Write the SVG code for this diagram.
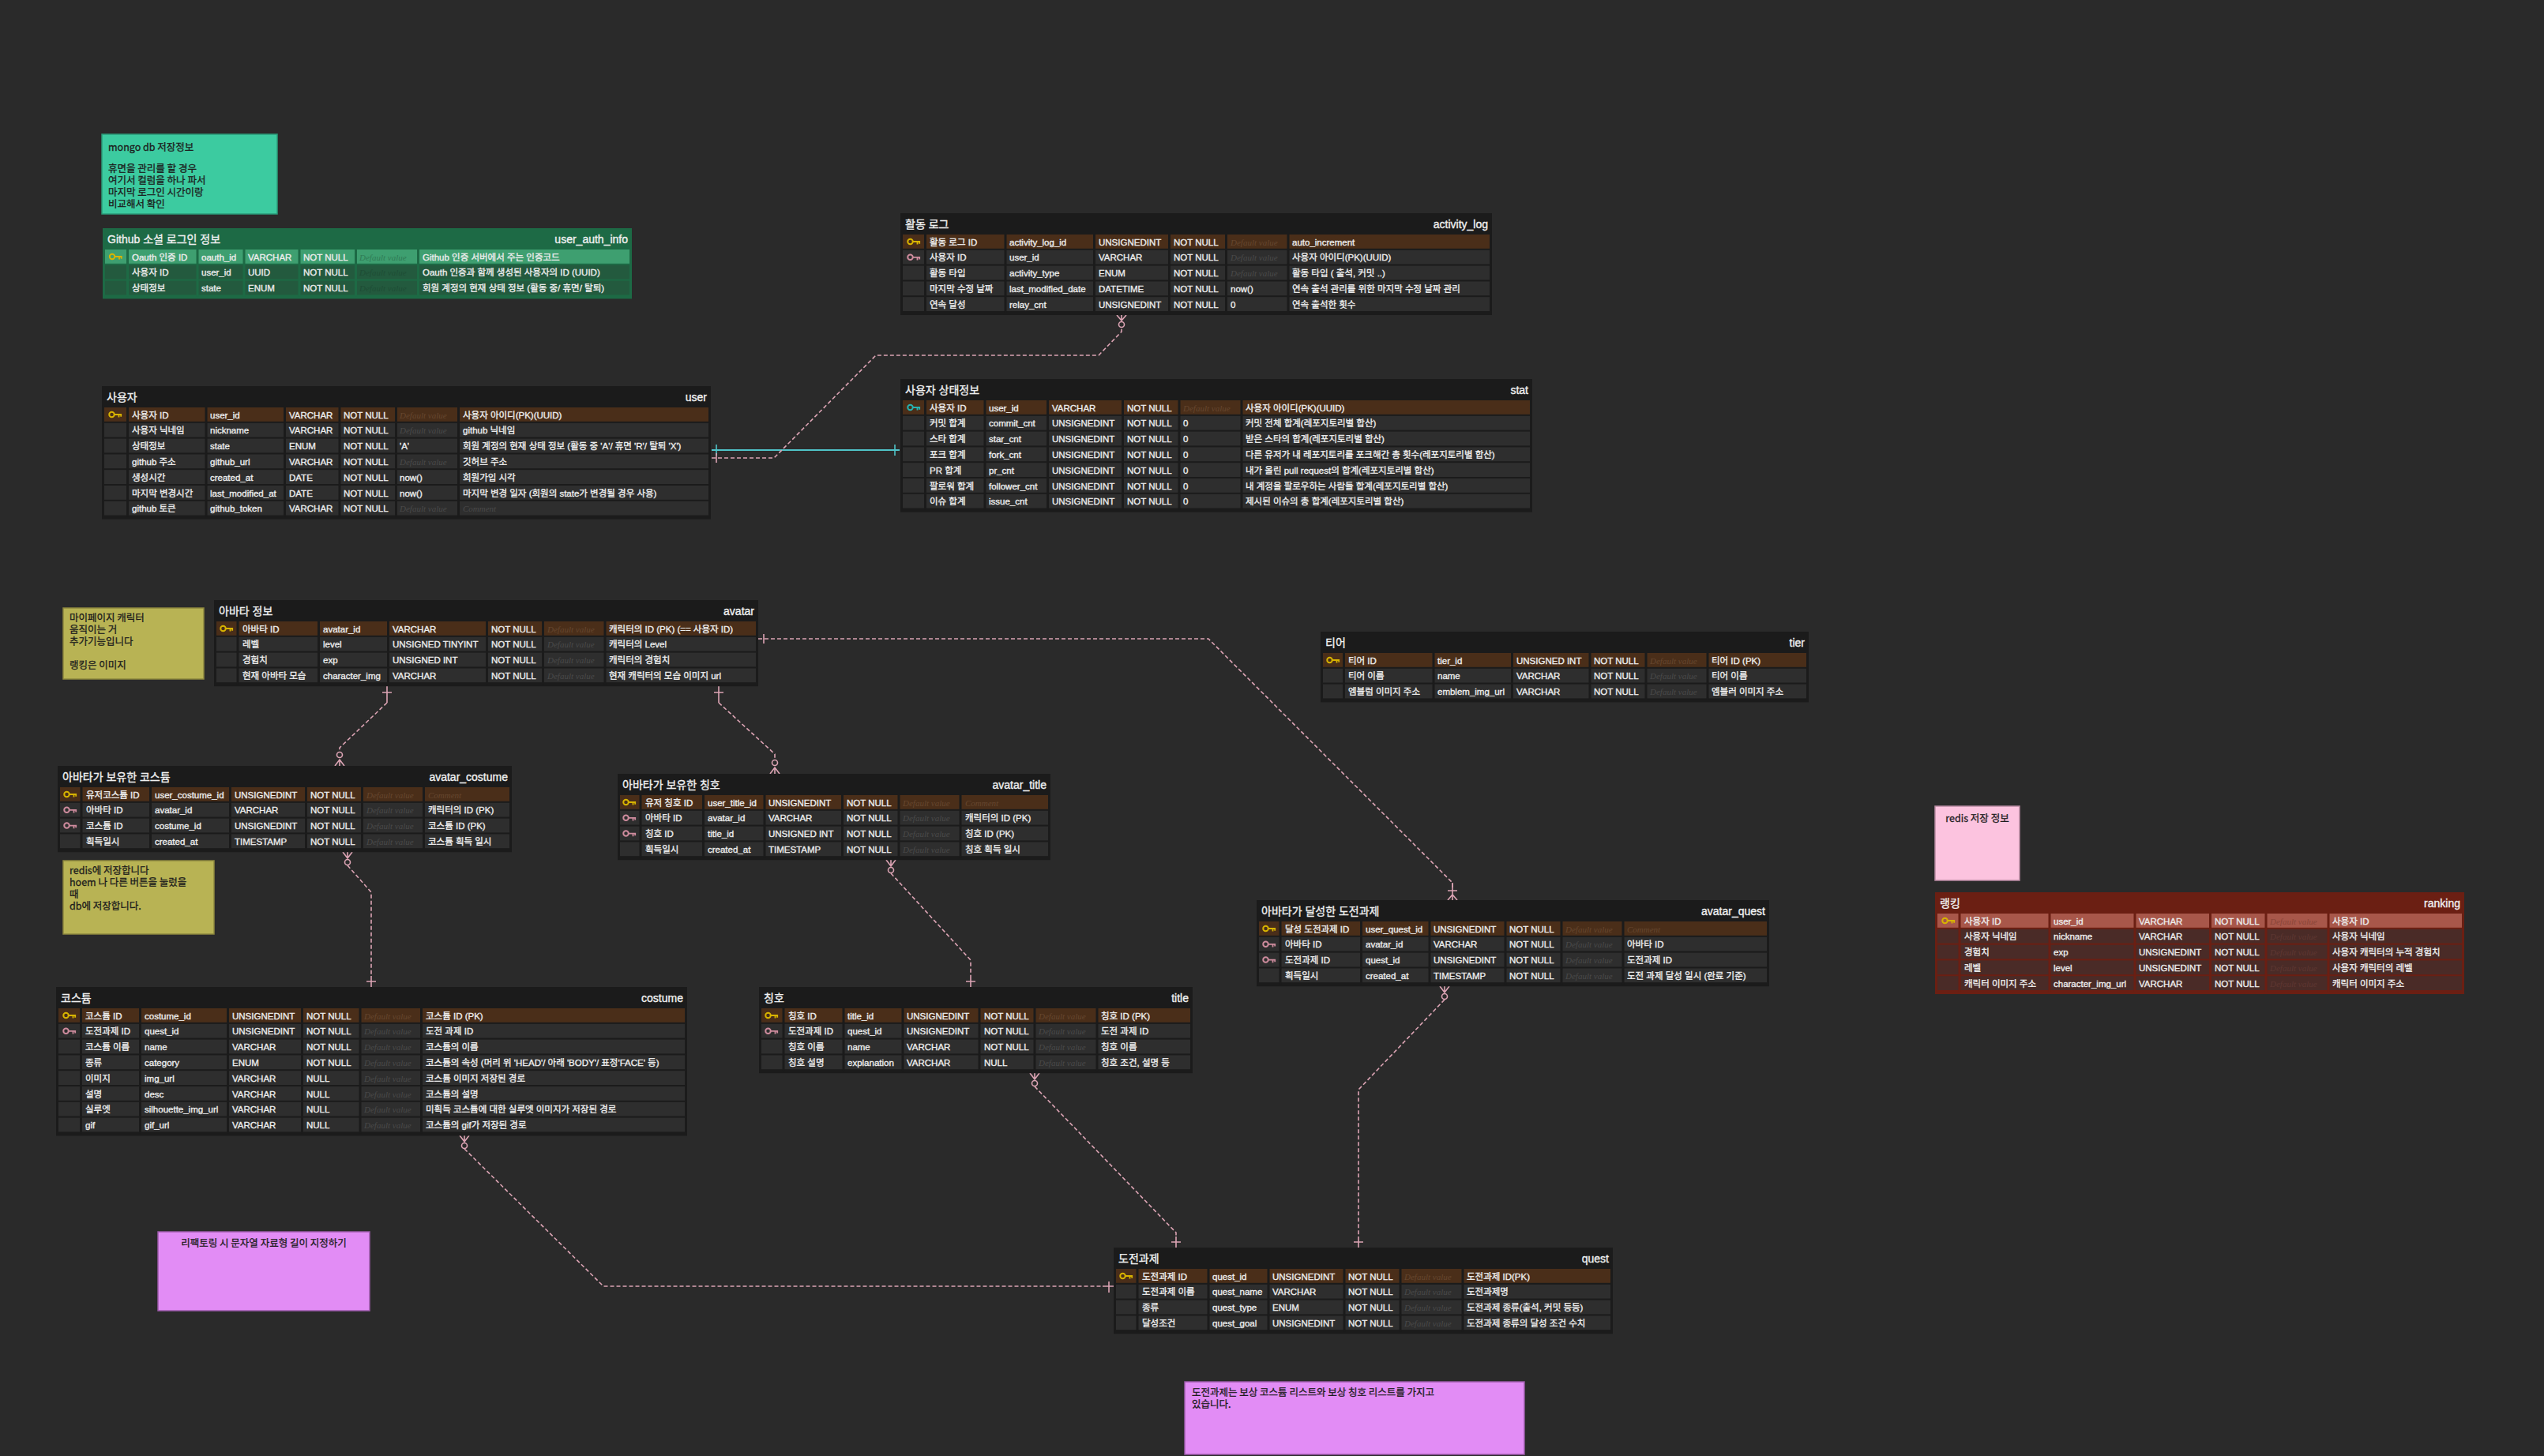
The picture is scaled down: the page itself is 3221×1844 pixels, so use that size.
<svg xmlns="http://www.w3.org/2000/svg" xmlns:xlink="http://www.w3.org/1999/xlink" width="3221" height="1844" viewBox="0 0 3221 1844">
<style>
.fr{fill:#1b1b1b}.rw{fill:#2e2e2e}.pk{fill:#4a2e19}
.dv{stroke:#1b1b1b;stroke-width:3;fill:none}
.t{font-family:"Liberation Sans","Noto Sans CJK KR",sans-serif;font-size:11.5px;fill:#ededed;stroke:#ededed;stroke-width:0.35}
.ph{font-style:italic;font-size:11px;fill:#4a4a4a;stroke:none}
.pp{font-style:italic;font-size:11px;fill:#66472f;stroke:none}
.hd{font-family:"Liberation Sans","Noto Sans CJK KR",sans-serif;font-size:14px;fill:#f0f0f0;stroke:#f0f0f0;stroke-width:0.35}
.hr{text-anchor:end}
.gfr{fill:#1d6a45}.gpk{fill:#3e9f70}.grw{fill:#235a3e}.gdv{stroke:#1d6a45;stroke-width:3;fill:none}
.gph{font-style:italic;font-size:11px;fill:#1e4d35;stroke:none}.gpp{font-style:italic;font-size:11px;fill:#2f7b55;stroke:none}
.rfr{fill:#6b1f13}.rpk{fill:#a8574a}.rrw{fill:#4a2b27}.rdv{stroke:#6b1f13;stroke-width:3;fill:none}
.rph{font-style:italic;font-size:11px;fill:#5e3732;stroke:none}.rpp{font-style:italic;font-size:11px;fill:#8a4538;stroke:none}
.note{font-family:"Noto Sans CJK KR",sans-serif;font-size:12.5px;fill:#1c1c1c;stroke:#1c1c1c;stroke-width:0.3}
.cn{fill:none;stroke:#dca4b4;stroke-width:1.6;stroke-dasharray:5 3}
.cm{fill:none;stroke:#dca4b4;stroke-width:1.6}
.cz{fill:#2a2a2a;stroke:#dca4b4;stroke-width:1.6}
.kg{color:#d8b400}.kf{color:#cf8c9e}.kt{color:#25b3b3}
</style>
<defs>
<symbol id="key" viewBox="0 0 20 12">
<circle cx="5" cy="6" r="3.6" fill="none" stroke="currentColor" stroke-width="2.2"/>
<path d="M8.6 6H19M15 6v4M18 6v3" fill="none" stroke="currentColor" stroke-width="2"/>
</symbol>
</defs>
<rect x="0" y="0" width="3221" height="1844" fill="#2a2a2a"/>

<g id="connectors">
<path d="M901,570 H1139" fill="none" stroke="#4fc3c8" stroke-width="2"/>
<path d="M907,563 V577 M1133,563 V577" fill="none" stroke="#4fc3c8" stroke-width="1.6"/>
<path class="cn" d="M901,580 H980 L1109,450 H1391 L1420,420 V415"/>
<path class="cm" d="M907,574 V586 M1414,399 L1420,406 L1426,399 M1420,399 V406"/>
<circle class="cz" cx="1420" cy="411" r="3.5"/>
<path class="cn" d="M490,890 L430,947 V952"/>
<path class="cm" d="M490,869 V890 M484,877 H496 M424,970 L430,962 L436,970 M430,962 V970"/>
<circle class="cz" cx="430" cy="956" r="3.5"/>
<path class="cn" d="M910,890 L981,955 V962"/>
<path class="cm" d="M910,869 V890 M904,877 H916 M975,980 L981,972 L987,980 M981,972 V980"/>
<circle class="cz" cx="981" cy="966" r="3.5"/>
<path class="cn" d="M960,809 H1530 L1839,1118 V1128"/>
<path class="cm" d="M967,803 V815 M1839,1118 V1140 M1833,1128 H1845 M1833,1140 L1839,1133 L1845,1140"/>
<path class="cm" d="M434,1079 L440,1087 L446,1079 M440,1079 V1087"/>
<circle class="cz" cx="440" cy="1092" r="3.5"/>
<path class="cn" d="M440,1096 L470,1130 V1236"/>
<path class="cm" d="M470,1236 V1250 M464,1243 H476"/>
<path class="cm" d="M1122,1089 L1128,1097 L1134,1089 M1128,1089 V1097"/>
<circle class="cz" cx="1128" cy="1102" r="3.5"/>
<path class="cn" d="M1128,1106 L1229,1216 V1236"/>
<path class="cm" d="M1229,1236 V1250 M1223,1243 H1235"/>
<path class="cm" d="M582,1438 L588,1446 L594,1438 M588,1438 V1446"/>
<circle class="cz" cx="588" cy="1451" r="3.5"/>
<path class="cn" d="M588,1455 L764,1629 H1396"/>
<path class="cm" d="M1396,1629 H1410 M1404,1623 V1637"/>
<path class="cm" d="M1304,1359 L1310,1367 L1316,1359 M1310,1359 V1367"/>
<circle class="cz" cx="1310" cy="1372" r="3.5"/>
<path class="cn" d="M1310,1376 L1489,1561 V1566"/>
<path class="cm" d="M1489,1566 V1580 M1483,1573 H1495"/>
<path class="cm" d="M1823,1249 L1829,1257 L1835,1249 M1829,1249 V1257"/>
<circle class="cz" cx="1829" cy="1262" r="3.5"/>
<path class="cn" d="M1829,1266 L1720,1380 V1566"/>
<path class="cm" d="M1720,1566 V1580 M1714,1573 H1726"/>
</g>

<g id="note-mongo">
<rect x="129" y="170" width="222" height="101" fill="#3ccba0" stroke="#2a9a78" stroke-width="1.5"/>
<text class="note" x="137" y="191">mongo db 저장정보</text>
<text class="note" x="137" y="218">휴면을 관리를 할 경우</text>
<text class="note" x="137" y="233">여기서 컬럼을 하나 파서</text>
<text class="note" x="137" y="248">마지막 로그인 시간이랑</text>
<text class="note" x="137" y="263">비교해서 확인</text>
</g>

<g id="user_auth_info">
<rect class="gfr" x="130" y="289" width="670" height="89.4"/>
<text class="hd" x="136" y="307.5">Github 소셜 로그인 정보</text>
<text class="hd hr" x="795" y="307.5">user_auth_info</text>
<rect class="gpk" x="133" y="316" width="664" height="17.8"/>
<rect class="grw" x="133" y="335.8" width="664" height="17.8"/>
<rect class="grw" x="133" y="355.6" width="664" height="17.8"/>
<path class="gdv" d="M161.5,316V375.4M250,316V375.4M309,316V375.4M379,316V375.4M450.5,316V375.4M529.5,316V375.4"/>
<use href="#key" class="kg" x="137.5" y="319.5" width="18" height="11"/>
<text class="t" x="167" y="329.5">Oauth 인증 ID</text><text class="t" x="255" y="329.5">oauth_id</text><text class="t" x="314" y="329.5">VARCHAR</text><text class="t" x="384" y="329.5">NOT NULL</text><text class="gpp" x="455" y="329.5">Default value</text><text class="t" x="535" y="329.5">Github 인증 서버에서 주는 인증코드</text>
<text class="t" x="167" y="349.3">사용자 ID</text><text class="t" x="255" y="349.3">user_id</text><text class="t" x="314" y="349.3">UUID</text><text class="t" x="384" y="349.3">NOT NULL</text><text class="gph" x="455" y="349.3">Default value</text><text class="t" x="535" y="349.3">Oauth 인증과 함께 생성된 사용자의 ID (UUID)</text>
<text class="t" x="167" y="369.1">상태정보</text><text class="t" x="255" y="369.1">state</text><text class="t" x="314" y="369.1">ENUM</text><text class="t" x="384" y="369.1">NOT NULL</text><text class="gph" x="455" y="369.1">Default value</text><text class="t" x="535" y="369.1">회원 계정의 현재 상태 정보 (활동 중/ 휴면/ 탈퇴)</text>
</g>

<g id="user">
<rect class="fr" x="129" y="489" width="771" height="168.6"/>
<text class="hd" x="135" y="507.5">사용자</text>
<text class="hd hr" x="895" y="507.5">user</text>
<rect class="pk" x="132" y="516" width="765" height="17.8"/>
<rect class="rw" x="132" y="535.8" width="765" height="17.8"/>
<rect class="rw" x="132" y="555.6" width="765" height="17.8"/>
<rect class="rw" x="132" y="575.4" width="765" height="17.8"/>
<rect class="rw" x="132" y="595.2" width="765" height="17.8"/>
<rect class="rw" x="132" y="615" width="765" height="17.8"/>
<rect class="rw" x="132" y="634.8" width="765" height="17.8"/>
<path class="dv" d="M161.5,516V654.6M261,516V654.6M360.5,516V654.6M430,516V654.6M501.5,516V654.6M580.5,516V654.6"/>
<use href="#key" class="kg" x="137" y="519.5" width="18" height="11"/>
<text class="t" x="167" y="529.5">사용자 ID</text><text class="t" x="266" y="529.5">user_id</text><text class="t" x="366" y="529.5">VARCHAR</text><text class="t" x="435" y="529.5">NOT NULL</text><text class="pp" x="506" y="529.5">Default value</text><text class="t" x="586" y="529.5">사용자 아이디(PK)(UUID)</text>
<text class="t" x="167" y="549.3">사용자 닉네임</text><text class="t" x="266" y="549.3">nickname</text><text class="t" x="366" y="549.3">VARCHAR</text><text class="t" x="435" y="549.3">NOT NULL</text><text class="ph" x="506" y="549.3">Default value</text><text class="t" x="586" y="549.3">github 닉네임</text>
<text class="t" x="167" y="569.1">상태정보</text><text class="t" x="266" y="569.1">state</text><text class="t" x="366" y="569.1">ENUM</text><text class="t" x="435" y="569.1">NOT NULL</text><text class="t" x="506" y="569.1">'A'</text><text class="t" x="586" y="569.1">회원 계정의 현재 상태 정보 (활동 중 'A'/ 휴면 'R'/ 탈퇴 'X')</text>
<text class="t" x="167" y="588.9">github 주소</text><text class="t" x="266" y="588.9">github_url</text><text class="t" x="366" y="588.9">VARCHAR</text><text class="t" x="435" y="588.9">NOT NULL</text><text class="ph" x="506" y="588.9">Default value</text><text class="t" x="586" y="588.9">깃허브 주소</text>
<text class="t" x="167" y="608.7">생성시간</text><text class="t" x="266" y="608.7">created_at</text><text class="t" x="366" y="608.7">DATE</text><text class="t" x="435" y="608.7">NOT NULL</text><text class="t" x="506" y="608.7">now()</text><text class="t" x="586" y="608.7">회원가입 시각</text>
<text class="t" x="167" y="628.5">마지막 변경시간</text><text class="t" x="266" y="628.5">last_modified_at</text><text class="t" x="366" y="628.5">DATE</text><text class="t" x="435" y="628.5">NOT NULL</text><text class="t" x="506" y="628.5">now()</text><text class="t" x="586" y="628.5">마지막 변경 일자 (회원의 state가 변경될 경우 사용)</text>
<text class="t" x="167" y="648.3">github 토큰</text><text class="t" x="266" y="648.3">github_token</text><text class="t" x="366" y="648.3">VARCHAR</text><text class="t" x="435" y="648.3">NOT NULL</text><text class="ph" x="506" y="648.3">Default value</text><text class="ph" x="586" y="648.3">Comment</text>
</g>

<g id="activity_log">
<rect class="fr" x="1140" y="270" width="749" height="129"/>
<text class="hd" x="1146" y="288.5">활동 로그</text>
<text class="hd hr" x="1884" y="288.5">activity_log</text>
<rect class="pk" x="1143" y="297" width="743" height="17.8"/>
<rect class="rw" x="1143" y="316.8" width="743" height="17.8"/>
<rect class="rw" x="1143" y="336.6" width="743" height="17.8"/>
<rect class="rw" x="1143" y="356.4" width="743" height="17.8"/>
<rect class="rw" x="1143" y="376.2" width="743" height="17.8"/>
<path class="dv" d="M1171.5,297V396M1273,297V396M1385.5,297V396M1480.5,297V396M1552.5,297V396M1631,297V396"/>
<use href="#key" class="kg" x="1148" y="300.5" width="18" height="11"/>
<use href="#key" class="kf" x="1148" y="320.3" width="18" height="11"/>
<text class="t" x="1177" y="310.5">활동 로그 ID</text><text class="t" x="1278" y="310.5">activity_log_id</text><text class="t" x="1391" y="310.5">UNSIGNEDINT</text><text class="t" x="1486" y="310.5">NOT NULL</text><text class="pp" x="1558" y="310.5">Default value</text><text class="t" x="1636" y="310.5">auto_increment</text>
<text class="t" x="1177" y="330.3">사용자 ID</text><text class="t" x="1278" y="330.3">user_id</text><text class="t" x="1391" y="330.3">VARCHAR</text><text class="t" x="1486" y="330.3">NOT NULL</text><text class="ph" x="1558" y="330.3">Default value</text><text class="t" x="1636" y="330.3">사용자 아이디(PK)(UUID)</text>
<text class="t" x="1177" y="350.1">활동 타입</text><text class="t" x="1278" y="350.1">activity_type</text><text class="t" x="1391" y="350.1">ENUM</text><text class="t" x="1486" y="350.1">NOT NULL</text><text class="ph" x="1558" y="350.1">Default value</text><text class="t" x="1636" y="350.1">활동 타입 ( 출석, 커밋 ..)</text>
<text class="t" x="1177" y="369.9">마지막 수정 날짜</text><text class="t" x="1278" y="369.9">last_modified_date</text><text class="t" x="1391" y="369.9">DATETIME</text><text class="t" x="1486" y="369.9">NOT NULL</text><text class="t" x="1558" y="369.9">now()</text><text class="t" x="1636" y="369.9">연속 출석 관리를 위한 마지막 수정 날짜 관리</text>
<text class="t" x="1177" y="389.7">연속 달성</text><text class="t" x="1278" y="389.7">relay_cnt</text><text class="t" x="1391" y="389.7">UNSIGNEDINT</text><text class="t" x="1486" y="389.7">NOT NULL</text><text class="t" x="1558" y="389.7">0</text><text class="t" x="1636" y="389.7">연속 출석한 횟수</text>
</g>

<g id="stat">
<rect class="fr" x="1140" y="480" width="800" height="168.6"/>
<text class="hd" x="1146" y="498.5">사용자 상태정보</text>
<text class="hd hr" x="1935" y="498.5">stat</text>
<rect class="pk" x="1143" y="507" width="794" height="17.8"/>
<rect class="rw" x="1143" y="526.8" width="794" height="17.8"/>
<rect class="rw" x="1143" y="546.6" width="794" height="17.8"/>
<rect class="rw" x="1143" y="566.4" width="794" height="17.8"/>
<rect class="rw" x="1143" y="586.2" width="794" height="17.8"/>
<rect class="rw" x="1143" y="606" width="794" height="17.8"/>
<rect class="rw" x="1143" y="625.8" width="794" height="17.8"/>
<path class="dv" d="M1171.5,507V645.6M1247,507V645.6M1326.5,507V645.6M1421.5,507V645.6M1493,507V645.6M1572,507V645.6"/>
<use href="#key" class="kt" x="1148" y="510.5" width="18" height="11"/>
<text class="t" x="1177" y="520.5">사용자 ID</text><text class="t" x="1252" y="520.5">user_id</text><text class="t" x="1332" y="520.5">VARCHAR</text><text class="t" x="1427" y="520.5">NOT NULL</text><text class="pp" x="1498" y="520.5">Default value</text><text class="t" x="1577" y="520.5">사용자 아이디(PK)(UUID)</text>
<text class="t" x="1177" y="540.3">커밋 합계</text><text class="t" x="1252" y="540.3">commit_cnt</text><text class="t" x="1332" y="540.3">UNSIGNEDINT</text><text class="t" x="1427" y="540.3">NOT NULL</text><text class="t" x="1498" y="540.3">0</text><text class="t" x="1577" y="540.3">커밋 전체 합계(레포지토리별 합산)</text>
<text class="t" x="1177" y="560.1">스타 합계</text><text class="t" x="1252" y="560.1">star_cnt</text><text class="t" x="1332" y="560.1">UNSIGNEDINT</text><text class="t" x="1427" y="560.1">NOT NULL</text><text class="t" x="1498" y="560.1">0</text><text class="t" x="1577" y="560.1">받은 스타의 합계(레포지토리별 합산)</text>
<text class="t" x="1177" y="579.9">포크 합계</text><text class="t" x="1252" y="579.9">fork_cnt</text><text class="t" x="1332" y="579.9">UNSIGNEDINT</text><text class="t" x="1427" y="579.9">NOT NULL</text><text class="t" x="1498" y="579.9">0</text><text class="t" x="1577" y="579.9">다른 유저가 내 레포지토리를 포크해간 총 횟수(레포지토리별 합산)</text>
<text class="t" x="1177" y="599.7">PR 합계</text><text class="t" x="1252" y="599.7">pr_cnt</text><text class="t" x="1332" y="599.7">UNSIGNEDINT</text><text class="t" x="1427" y="599.7">NOT NULL</text><text class="t" x="1498" y="599.7">0</text><text class="t" x="1577" y="599.7">내가 올린 pull request의 합계(레포지토리별 합산)</text>
<text class="t" x="1177" y="619.5">팔로워 합계</text><text class="t" x="1252" y="619.5">follower_cnt</text><text class="t" x="1332" y="619.5">UNSIGNEDINT</text><text class="t" x="1427" y="619.5">NOT NULL</text><text class="t" x="1498" y="619.5">0</text><text class="t" x="1577" y="619.5">내 계정을 팔로우하는 사람들 합계(레포지토리별 합산)</text>
<text class="t" x="1177" y="639.3">이슈 합계</text><text class="t" x="1252" y="639.3">issue_cnt</text><text class="t" x="1332" y="639.3">UNSIGNEDINT</text><text class="t" x="1427" y="639.3">NOT NULL</text><text class="t" x="1498" y="639.3">0</text><text class="t" x="1577" y="639.3">제시된 이슈의 총 합계(레포지토리별 합산)</text>
</g>

<g id="note-avatar">
<rect x="80" y="770" width="178" height="90" fill="#b8b354" stroke="#8c873e" stroke-width="1.5"/>
<text class="note" x="88" y="787">마이페이지 캐릭터</text>
<text class="note" x="88" y="802">움직이는 거</text>
<text class="note" x="88" y="817">추가기능입니다</text>
<text class="note" x="88" y="847">랭킹은 이미지</text>
</g>

<g id="avatar">
<rect class="fr" x="271" y="760" width="689" height="109.2"/>
<text class="hd" x="277" y="778.5">아바타 정보</text>
<text class="hd hr" x="955" y="778.5">avatar</text>
<rect class="pk" x="274" y="787" width="683" height="17.8"/>
<rect class="rw" x="274" y="806.8" width="683" height="17.8"/>
<rect class="rw" x="274" y="826.6" width="683" height="17.8"/>
<rect class="rw" x="274" y="846.4" width="683" height="17.8"/>
<path class="dv" d="M301,787V866.2M403.5,787V866.2M491.5,787V866.2M616.5,787V866.2M687.5,787V866.2M766,787V866.2"/>
<use href="#key" class="kg" x="278" y="790.5" width="18" height="11"/>
<text class="t" x="307" y="800.5">아바타 ID</text><text class="t" x="409" y="800.5">avatar_id</text><text class="t" x="497" y="800.5">VARCHAR</text><text class="t" x="622" y="800.5">NOT NULL</text><text class="pp" x="693" y="800.5">Default value</text><text class="t" x="771" y="800.5">캐릭터의 ID (PK) (== 사용자 ID)</text>
<text class="t" x="307" y="820.3">레벨</text><text class="t" x="409" y="820.3">level</text><text class="t" x="497" y="820.3">UNSIGNED TINYINT</text><text class="t" x="622" y="820.3">NOT NULL</text><text class="ph" x="693" y="820.3">Default value</text><text class="t" x="771" y="820.3">캐릭터의 Level</text>
<text class="t" x="307" y="840.1">경험치</text><text class="t" x="409" y="840.1">exp</text><text class="t" x="497" y="840.1">UNSIGNED INT</text><text class="t" x="622" y="840.1">NOT NULL</text><text class="ph" x="693" y="840.1">Default value</text><text class="t" x="771" y="840.1">캐릭터의 경험치</text>
<text class="t" x="307" y="859.9">현재 아바타 모습</text><text class="t" x="409" y="859.9">character_img</text><text class="t" x="497" y="859.9">VARCHAR</text><text class="t" x="622" y="859.9">NOT NULL</text><text class="ph" x="693" y="859.9">Default value</text><text class="t" x="771" y="859.9">현재 캐릭터의 모습 이미지 url</text>
</g>

<g id="avatar_costume">
<rect class="fr" x="73" y="970" width="575" height="109.2"/>
<text class="hd" x="79" y="988.5">아바타가 보유한 코스튬</text>
<text class="hd hr" x="643" y="988.5">avatar_costume</text>
<rect class="pk" x="76" y="997" width="569" height="17.8"/>
<rect class="rw" x="76" y="1016.8" width="569" height="17.8"/>
<rect class="rw" x="76" y="1036.6" width="569" height="17.8"/>
<rect class="rw" x="76" y="1056.4" width="569" height="17.8"/>
<path class="dv" d="M103,997V1076.2M190.5,997V1076.2M291.5,997V1076.2M387.5,997V1076.2M458.5,997V1076.2M536.5,997V1076.2"/>
<use href="#key" class="kg" x="80" y="1000.5" width="18" height="11"/>
<use href="#key" class="kf" x="80" y="1020.3" width="18" height="11"/>
<use href="#key" class="kf" x="80" y="1040.1" width="18" height="11"/>
<text class="t" x="109" y="1010.5">유저코스튬 ID</text><text class="t" x="196" y="1010.5">user_costume_id</text><text class="t" x="297" y="1010.5">UNSIGNEDINT</text><text class="t" x="393" y="1010.5">NOT NULL</text><text class="pp" x="464" y="1010.5">Default value</text><text class="pp" x="542" y="1010.5">Comment</text>
<text class="t" x="109" y="1030.3">아바타 ID</text><text class="t" x="196" y="1030.3">avatar_id</text><text class="t" x="297" y="1030.3">VARCHAR</text><text class="t" x="393" y="1030.3">NOT NULL</text><text class="ph" x="464" y="1030.3">Default value</text><text class="t" x="542" y="1030.3">캐릭터의 ID (PK)</text>
<text class="t" x="109" y="1050.1">코스튬 ID</text><text class="t" x="196" y="1050.1">costume_id</text><text class="t" x="297" y="1050.1">UNSIGNEDINT</text><text class="t" x="393" y="1050.1">NOT NULL</text><text class="ph" x="464" y="1050.1">Default value</text><text class="t" x="542" y="1050.1">코스튬 ID (PK)</text>
<text class="t" x="109" y="1069.9">획득일시</text><text class="t" x="196" y="1069.9">created_at</text><text class="t" x="297" y="1069.9">TIMESTAMP</text><text class="t" x="393" y="1069.9">NOT NULL</text><text class="ph" x="464" y="1069.9">Default value</text><text class="t" x="542" y="1069.9">코스튬 획득 일시</text>
</g>

<g id="note-redis-save">
<rect x="80" y="1090" width="191" height="93" fill="#b8b354" stroke="#8c873e" stroke-width="1.5"/>
<text class="note" x="88" y="1107">redis에 저장합니다</text>
<text class="note" x="88" y="1122">hoem 나 다른 버튼을 눌렀을</text>
<text class="note" x="88" y="1137">때</text>
<text class="note" x="88" y="1152">db에 저장합니다.</text>
</g>

<g id="avatar_title">
<rect class="fr" x="782" y="980" width="548" height="109.2"/>
<text class="hd" x="788" y="998.5">아바타가 보유한 칭호</text>
<text class="hd hr" x="1325" y="998.5">avatar_title</text>
<rect class="pk" x="785" y="1007" width="542" height="17.8"/>
<rect class="rw" x="785" y="1026.8" width="542" height="17.8"/>
<rect class="rw" x="785" y="1046.6" width="542" height="17.8"/>
<rect class="rw" x="785" y="1066.4" width="542" height="17.8"/>
<path class="dv" d="M811,1007V1086.2M890.5,1007V1086.2M968,1007V1086.2M1066.5,1007V1086.2M1138,1007V1086.2M1216,1007V1086.2"/>
<use href="#key" class="kg" x="788" y="1010.5" width="18" height="11"/>
<use href="#key" class="kf" x="788" y="1030.3" width="18" height="11"/>
<use href="#key" class="kf" x="788" y="1050.1" width="18" height="11"/>
<text class="t" x="817" y="1020.5">유저 칭호 ID</text><text class="t" x="896" y="1020.5">user_title_id</text><text class="t" x="973" y="1020.5">UNSIGNEDINT</text><text class="t" x="1072" y="1020.5">NOT NULL</text><text class="pp" x="1143" y="1020.5">Default value</text><text class="pp" x="1222" y="1020.5">Comment</text>
<text class="t" x="817" y="1040.3">아바타 ID</text><text class="t" x="896" y="1040.3">avatar_id</text><text class="t" x="973" y="1040.3">VARCHAR</text><text class="t" x="1072" y="1040.3">NOT NULL</text><text class="ph" x="1143" y="1040.3">Default value</text><text class="t" x="1222" y="1040.3">캐릭터의 ID (PK)</text>
<text class="t" x="817" y="1060.1">칭호 ID</text><text class="t" x="896" y="1060.1">title_id</text><text class="t" x="973" y="1060.1">UNSIGNED INT</text><text class="t" x="1072" y="1060.1">NOT NULL</text><text class="ph" x="1143" y="1060.1">Default value</text><text class="t" x="1222" y="1060.1">칭호 ID (PK)</text>
<text class="t" x="817" y="1079.9">획득일시</text><text class="t" x="896" y="1079.9">created_at</text><text class="t" x="973" y="1079.9">TIMESTAMP</text><text class="t" x="1072" y="1079.9">NOT NULL</text><text class="ph" x="1143" y="1079.9">Default value</text><text class="t" x="1222" y="1079.9">칭호 획득 일시</text>
</g>

<g id="tier">
<rect class="fr" x="1672" y="800" width="618" height="89.4"/>
<text class="hd" x="1678" y="818.5">티어</text>
<text class="hd hr" x="2285" y="818.5">tier</text>
<rect class="pk" x="1675" y="827" width="612" height="17.8"/>
<rect class="rw" x="1675" y="846.8" width="612" height="17.8"/>
<rect class="rw" x="1675" y="866.6" width="612" height="17.8"/>
<path class="dv" d="M1701.5,827V886.4M1815,827V886.4M1914.5,827V886.4M2013,827V886.4M2084,827V886.4M2162,827V886.4"/>
<use href="#key" class="kg" x="1679" y="830.5" width="18" height="11"/>
<text class="t" x="1707" y="840.5">티어 ID</text><text class="t" x="1820" y="840.5">tier_id</text><text class="t" x="1920" y="840.5">UNSIGNED INT</text><text class="t" x="2018" y="840.5">NOT NULL</text><text class="pp" x="2089" y="840.5">Default value</text><text class="t" x="2167" y="840.5">티어 ID (PK)</text>
<text class="t" x="1707" y="860.3">티어 이름</text><text class="t" x="1820" y="860.3">name</text><text class="t" x="1920" y="860.3">VARCHAR</text><text class="t" x="2018" y="860.3">NOT NULL</text><text class="ph" x="2089" y="860.3">Default value</text><text class="t" x="2167" y="860.3">티어 이름</text>
<text class="t" x="1707" y="880.1">엠블럼 이미지 주소</text><text class="t" x="1820" y="880.1">emblem_img_url</text><text class="t" x="1920" y="880.1">VARCHAR</text><text class="t" x="2018" y="880.1">NOT NULL</text><text class="ph" x="2089" y="880.1">Default value</text><text class="t" x="2167" y="880.1">엠블러 이미지 주소</text>
</g>

<g id="avatar_quest">
<rect class="fr" x="1591" y="1140" width="649" height="109.2"/>
<text class="hd" x="1597" y="1158.5">아바타가 달성한 도전과제</text>
<text class="hd hr" x="2235" y="1158.5">avatar_quest</text>
<rect class="pk" x="1594" y="1167" width="643" height="17.8"/>
<rect class="rw" x="1594" y="1186.8" width="643" height="17.8"/>
<rect class="rw" x="1594" y="1206.6" width="643" height="17.8"/>
<rect class="rw" x="1594" y="1226.4" width="643" height="17.8"/>
<path class="dv" d="M1621,1167V1246.2M1723.5,1167V1246.2M1810,1167V1246.2M1906,1167V1246.2M1977,1167V1246.2M2055,1167V1246.2"/>
<use href="#key" class="kg" x="1598" y="1170.5" width="18" height="11"/>
<use href="#key" class="kf" x="1598" y="1190.3" width="18" height="11"/>
<use href="#key" class="kf" x="1598" y="1210.1" width="18" height="11"/>
<text class="t" x="1627" y="1180.5">달성 도전과제 ID</text><text class="t" x="1729" y="1180.5">user_quest_id</text><text class="t" x="1815" y="1180.5">UNSIGNEDINT</text><text class="t" x="1911" y="1180.5">NOT NULL</text><text class="pp" x="1982" y="1180.5">Default value</text><text class="pp" x="2060" y="1180.5">Comment</text>
<text class="t" x="1627" y="1200.3">아바타 ID</text><text class="t" x="1729" y="1200.3">avatar_id</text><text class="t" x="1815" y="1200.3">VARCHAR</text><text class="t" x="1911" y="1200.3">NOT NULL</text><text class="ph" x="1982" y="1200.3">Default value</text><text class="t" x="2060" y="1200.3">아바타 ID</text>
<text class="t" x="1627" y="1220.1">도전과제 ID</text><text class="t" x="1729" y="1220.1">quest_id</text><text class="t" x="1815" y="1220.1">UNSIGNEDINT</text><text class="t" x="1911" y="1220.1">NOT NULL</text><text class="ph" x="1982" y="1220.1">Default value</text><text class="t" x="2060" y="1220.1">도전과제 ID</text>
<text class="t" x="1627" y="1239.9">획득일시</text><text class="t" x="1729" y="1239.9">created_at</text><text class="t" x="1815" y="1239.9">TIMESTAMP</text><text class="t" x="1911" y="1239.9">NOT NULL</text><text class="ph" x="1982" y="1239.9">Default value</text><text class="t" x="2060" y="1239.9">도전 과제 달성 일시 (완료 기준)</text>
</g>

<g id="note-redis">
<rect x="2450" y="1021" width="107" height="94" fill="#fcc3df" stroke="#b88aa2" stroke-width="1.5"/>
<text class="note" x="2503.5" y="1041" text-anchor="middle">redis 저장 정보</text>
</g>

<g id="ranking">
<rect class="rfr" x="2450" y="1130" width="670" height="129"/>
<text class="hd" x="2456" y="1148.5">랭킹</text>
<text class="hd hr" x="3115" y="1148.5">ranking</text>
<rect class="rpk" x="2453" y="1157" width="664" height="17.8"/>
<rect class="rrw" x="2453" y="1176.8" width="664" height="17.8"/>
<rect class="rrw" x="2453" y="1196.6" width="664" height="17.8"/>
<rect class="rrw" x="2453" y="1216.4" width="664" height="17.8"/>
<rect class="rrw" x="2453" y="1236.2" width="664" height="17.8"/>
<path class="rdv" d="M2481,1157V1256M2595,1157V1256M2703,1157V1256M2798.5,1157V1256M2869,1157V1256M2948,1157V1256"/>
<use href="#key" class="kg" x="2458" y="1160.5" width="18" height="11"/>
<text class="t" x="2487" y="1170.5">사용자 ID</text><text class="t" x="2600" y="1170.5">user_id</text><text class="t" x="2708" y="1170.5">VARCHAR</text><text class="t" x="2804" y="1170.5">NOT NULL</text><text class="rpp" x="2874" y="1170.5">Default value</text><text class="t" x="2953" y="1170.5">사용자 ID</text>
<text class="t" x="2487" y="1190.3">사용자 닉네임</text><text class="t" x="2600" y="1190.3">nickname</text><text class="t" x="2708" y="1190.3">VARCHAR</text><text class="t" x="2804" y="1190.3">NOT NULL</text><text class="rph" x="2874" y="1190.3">Default value</text><text class="t" x="2953" y="1190.3">사용자 닉네임</text>
<text class="t" x="2487" y="1210.1">경험치</text><text class="t" x="2600" y="1210.1">exp</text><text class="t" x="2708" y="1210.1">UNSIGNEDINT</text><text class="t" x="2804" y="1210.1">NOT NULL</text><text class="rph" x="2874" y="1210.1">Default value</text><text class="t" x="2953" y="1210.1">사용자 캐릭터의 누적 경험치</text>
<text class="t" x="2487" y="1229.9">레벨</text><text class="t" x="2600" y="1229.9">level</text><text class="t" x="2708" y="1229.9">UNSIGNEDINT</text><text class="t" x="2804" y="1229.9">NOT NULL</text><text class="rph" x="2874" y="1229.9">Default value</text><text class="t" x="2953" y="1229.9">사용자 캐릭터의 레벨</text>
<text class="t" x="2487" y="1249.7">캐릭터 이미지 주소</text><text class="t" x="2600" y="1249.7">character_img_url</text><text class="t" x="2708" y="1249.7">VARCHAR</text><text class="t" x="2804" y="1249.7">NOT NULL</text><text class="rph" x="2874" y="1249.7">Default value</text><text class="t" x="2953" y="1249.7">캐릭터 이미지 주소</text>
</g>

<g id="costume">
<rect class="fr" x="71" y="1250" width="799" height="188.4"/>
<text class="hd" x="77" y="1268.5">코스튬</text>
<text class="hd hr" x="865" y="1268.5">costume</text>
<rect class="pk" x="74" y="1277" width="793" height="17.8"/>
<rect class="rw" x="74" y="1296.8" width="793" height="17.8"/>
<rect class="rw" x="74" y="1316.6" width="793" height="17.8"/>
<rect class="rw" x="74" y="1336.4" width="793" height="17.8"/>
<rect class="rw" x="74" y="1356.2" width="793" height="17.8"/>
<rect class="rw" x="74" y="1376" width="793" height="17.8"/>
<rect class="rw" x="74" y="1395.8" width="793" height="17.8"/>
<rect class="rw" x="74" y="1415.6" width="793" height="17.8"/>
<path class="dv" d="M102.5,1277V1435.4M177.5,1277V1435.4M288.5,1277V1435.4M382.5,1277V1435.4M456,1277V1435.4M533.5,1277V1435.4"/>
<use href="#key" class="kg" x="79" y="1280.5" width="18" height="11"/>
<use href="#key" class="kf" x="79" y="1300.3" width="18" height="11"/>
<text class="t" x="108" y="1290.5">코스튬 ID</text><text class="t" x="183" y="1290.5">costume_id</text><text class="t" x="294" y="1290.5">UNSIGNEDINT</text><text class="t" x="388" y="1290.5">NOT NULL</text><text class="pp" x="461" y="1290.5">Default value</text><text class="t" x="539" y="1290.5">코스튬 ID (PK)</text>
<text class="t" x="108" y="1310.3">도전과제 ID</text><text class="t" x="183" y="1310.3">quest_id</text><text class="t" x="294" y="1310.3">UNSIGNEDINT</text><text class="t" x="388" y="1310.3">NOT NULL</text><text class="ph" x="461" y="1310.3">Default value</text><text class="t" x="539" y="1310.3">도전 과제 ID</text>
<text class="t" x="108" y="1330.1">코스튬 이름</text><text class="t" x="183" y="1330.1">name</text><text class="t" x="294" y="1330.1">VARCHAR</text><text class="t" x="388" y="1330.1">NOT NULL</text><text class="ph" x="461" y="1330.1">Default value</text><text class="t" x="539" y="1330.1">코스튬의 이름</text>
<text class="t" x="108" y="1349.9">종류</text><text class="t" x="183" y="1349.9">category</text><text class="t" x="294" y="1349.9">ENUM</text><text class="t" x="388" y="1349.9">NOT NULL</text><text class="ph" x="461" y="1349.9">Default value</text><text class="t" x="539" y="1349.9">코스튬의 속성 (머리 위 'HEAD'/ 아래 'BODY'/ 표정'FACE' 등)</text>
<text class="t" x="108" y="1369.7">이미지</text><text class="t" x="183" y="1369.7">img_url</text><text class="t" x="294" y="1369.7">VARCHAR</text><text class="t" x="388" y="1369.7">NULL</text><text class="ph" x="461" y="1369.7">Default value</text><text class="t" x="539" y="1369.7">코스튬 이미지 저장된 경로</text>
<text class="t" x="108" y="1389.5">설명</text><text class="t" x="183" y="1389.5">desc</text><text class="t" x="294" y="1389.5">VARCHAR</text><text class="t" x="388" y="1389.5">NULL</text><text class="ph" x="461" y="1389.5">Default value</text><text class="t" x="539" y="1389.5">코스튬의 설명</text>
<text class="t" x="108" y="1409.3">실루엣</text><text class="t" x="183" y="1409.3">silhouette_img_url</text><text class="t" x="294" y="1409.3">VARCHAR</text><text class="t" x="388" y="1409.3">NULL</text><text class="ph" x="461" y="1409.3">Default value</text><text class="t" x="539" y="1409.3">미획득 코스튬에 대한 실루엣 이미지가 저장된 경로</text>
<text class="t" x="108" y="1429.1">gif</text><text class="t" x="183" y="1429.1">gif_url</text><text class="t" x="294" y="1429.1">VARCHAR</text><text class="t" x="388" y="1429.1">NULL</text><text class="ph" x="461" y="1429.1">Default value</text><text class="t" x="539" y="1429.1">코스튬의 gif가 저장된 경로</text>
</g>

<g id="title">
<rect class="fr" x="961" y="1250" width="549" height="109.2"/>
<text class="hd" x="967" y="1268.5">칭호</text>
<text class="hd hr" x="1505" y="1268.5">title</text>
<rect class="pk" x="964" y="1277" width="543" height="17.8"/>
<rect class="rw" x="964" y="1296.8" width="543" height="17.8"/>
<rect class="rw" x="964" y="1316.6" width="543" height="17.8"/>
<rect class="rw" x="964" y="1336.4" width="543" height="17.8"/>
<path class="dv" d="M992,1277V1356.2M1068,1277V1356.2M1143,1277V1356.2M1240,1277V1356.2M1310,1277V1356.2M1389,1277V1356.2"/>
<use href="#key" class="kg" x="968" y="1280.5" width="18" height="11"/>
<use href="#key" class="kf" x="968" y="1300.3" width="18" height="11"/>
<text class="t" x="998" y="1290.5">칭호 ID</text><text class="t" x="1073" y="1290.5">title_id</text><text class="t" x="1148" y="1290.5">UNSIGNEDINT</text><text class="t" x="1246" y="1290.5">NOT NULL</text><text class="pp" x="1315" y="1290.5">Default value</text><text class="t" x="1394" y="1290.5">칭호 ID (PK)</text>
<text class="t" x="998" y="1310.3">도전과제 ID</text><text class="t" x="1073" y="1310.3">quest_id</text><text class="t" x="1148" y="1310.3">UNSIGNEDINT</text><text class="t" x="1246" y="1310.3">NOT NULL</text><text class="ph" x="1315" y="1310.3">Default value</text><text class="t" x="1394" y="1310.3">도전 과제 ID</text>
<text class="t" x="998" y="1330.1">칭호 이름</text><text class="t" x="1073" y="1330.1">name</text><text class="t" x="1148" y="1330.1">VARCHAR</text><text class="t" x="1246" y="1330.1">NOT NULL</text><text class="ph" x="1315" y="1330.1">Default value</text><text class="t" x="1394" y="1330.1">칭호 이름</text>
<text class="t" x="998" y="1349.9">칭호 설명</text><text class="t" x="1073" y="1349.9">explanation</text><text class="t" x="1148" y="1349.9">VARCHAR</text><text class="t" x="1246" y="1349.9">NULL</text><text class="ph" x="1315" y="1349.9">Default value</text><text class="t" x="1394" y="1349.9">칭호 조건, 설명 등</text>
</g>

<g id="note-refactor">
<rect x="200" y="1560" width="268" height="100" fill="#e28cf5" stroke="#9a5aa8" stroke-width="1.5"/>
<text class="note" x="334" y="1579" text-anchor="middle">리팩토링 시 문자열 자료형 길이 지정하기</text>
</g>

<g id="quest">
<rect class="fr" x="1410" y="1580" width="632" height="109.2"/>
<text class="hd" x="1416" y="1598.5">도전과제</text>
<text class="hd hr" x="2037" y="1598.5">quest</text>
<rect class="pk" x="1413" y="1607" width="626" height="17.8"/>
<rect class="rw" x="1413" y="1626.8" width="626" height="17.8"/>
<rect class="rw" x="1413" y="1646.6" width="626" height="17.8"/>
<rect class="rw" x="1413" y="1666.4" width="626" height="17.8"/>
<path class="dv" d="M1440,1607V1686.2M1530,1607V1686.2M1606,1607V1686.2M1702,1607V1686.2M1773,1607V1686.2M1852,1607V1686.2"/>
<use href="#key" class="kg" x="1417" y="1610.5" width="18" height="11"/>
<text class="t" x="1446" y="1620.5">도전과제 ID</text><text class="t" x="1535" y="1620.5">quest_id</text><text class="t" x="1611" y="1620.5">UNSIGNEDINT</text><text class="t" x="1707" y="1620.5">NOT NULL</text><text class="pp" x="1778" y="1620.5">Default value</text><text class="t" x="1857" y="1620.5">도전과제 ID(PK)</text>
<text class="t" x="1446" y="1640.3">도전과제 이름</text><text class="t" x="1535" y="1640.3">quest_name</text><text class="t" x="1611" y="1640.3">VARCHAR</text><text class="t" x="1707" y="1640.3">NOT NULL</text><text class="ph" x="1778" y="1640.3">Default value</text><text class="t" x="1857" y="1640.3">도전과제명</text>
<text class="t" x="1446" y="1660.1">종류</text><text class="t" x="1535" y="1660.1">quest_type</text><text class="t" x="1611" y="1660.1">ENUM</text><text class="t" x="1707" y="1660.1">NOT NULL</text><text class="ph" x="1778" y="1660.1">Default value</text><text class="t" x="1857" y="1660.1">도전과제 종류(출석, 커밋 등등)</text>
<text class="t" x="1446" y="1679.9">달성조건</text><text class="t" x="1535" y="1679.9">quest_goal</text><text class="t" x="1611" y="1679.9">UNSIGNEDINT</text><text class="t" x="1707" y="1679.9">NOT NULL</text><text class="ph" x="1778" y="1679.9">Default value</text><text class="t" x="1857" y="1679.9">도전과제 종류의 달성 조건 수치</text>
</g>

<g id="note-quest">
<rect x="1500" y="1750" width="430" height="92" fill="#e28cf5" stroke="#9a5aa8" stroke-width="1.5"/>
<text class="note" x="1509" y="1768">도전과제는 보상 코스튬 리스트와 보상 칭호 리스트를 가지고</text>
<text class="note" x="1509" y="1783">있습니다.</text>
</g>
</svg>
